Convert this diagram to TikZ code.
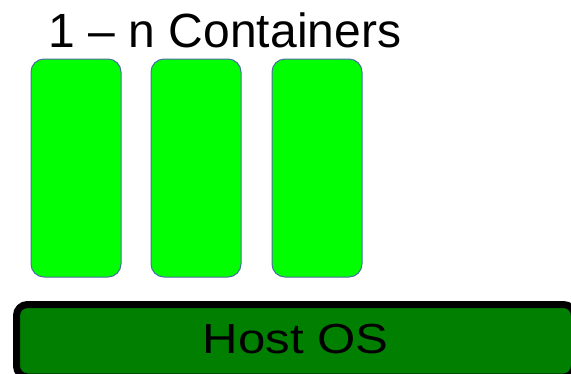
\documentclass[tikz,border=0pt]{standalone}
\usepackage{fontspec}
\setmainfont{Liberation Sans}
\definecolor{contfill}{HTML}{00FF00}
\definecolor{contline}{HTML}{4A6FA0}
\definecolor{hostfill}{HTML}{007F00}
\begin{document}
\begin{tikzpicture}[x=1pt,y=-1pt,
  container/.style={draw=contline, line width=1pt, fill=contfill, rounded corners=13pt,
    minimum width=90pt, minimum height=218pt, inner sep=0pt, outer sep=0pt},
  hostbox/.style={draw=black, line width=7pt, fill=hostfill, rounded corners=11pt}]
\useasboundingbox (0,0) rectangle (571,373);
% the title over the containers
\node[anchor=base, inner sep=0pt, font=\fontsize{48}{56}\selectfont] (title) at (225,47) {1 – n Containers};
% three container boxes
\node[container] (c1) at (76,168) {};
\node[container] (c2) at (196,168) {};
\node[container] (c3) at (317,168) {};
% host operating system bar
\path[hostbox] (16.5,304.5) rectangle (574.5,377);
\node[anchor=base, inner sep=0pt, font=\fontsize{42}{50}\selectfont] (host) at (295.5,353) {\scalebox{1.17}[1]{Host OS}};
\end{tikzpicture}
\end{document}
